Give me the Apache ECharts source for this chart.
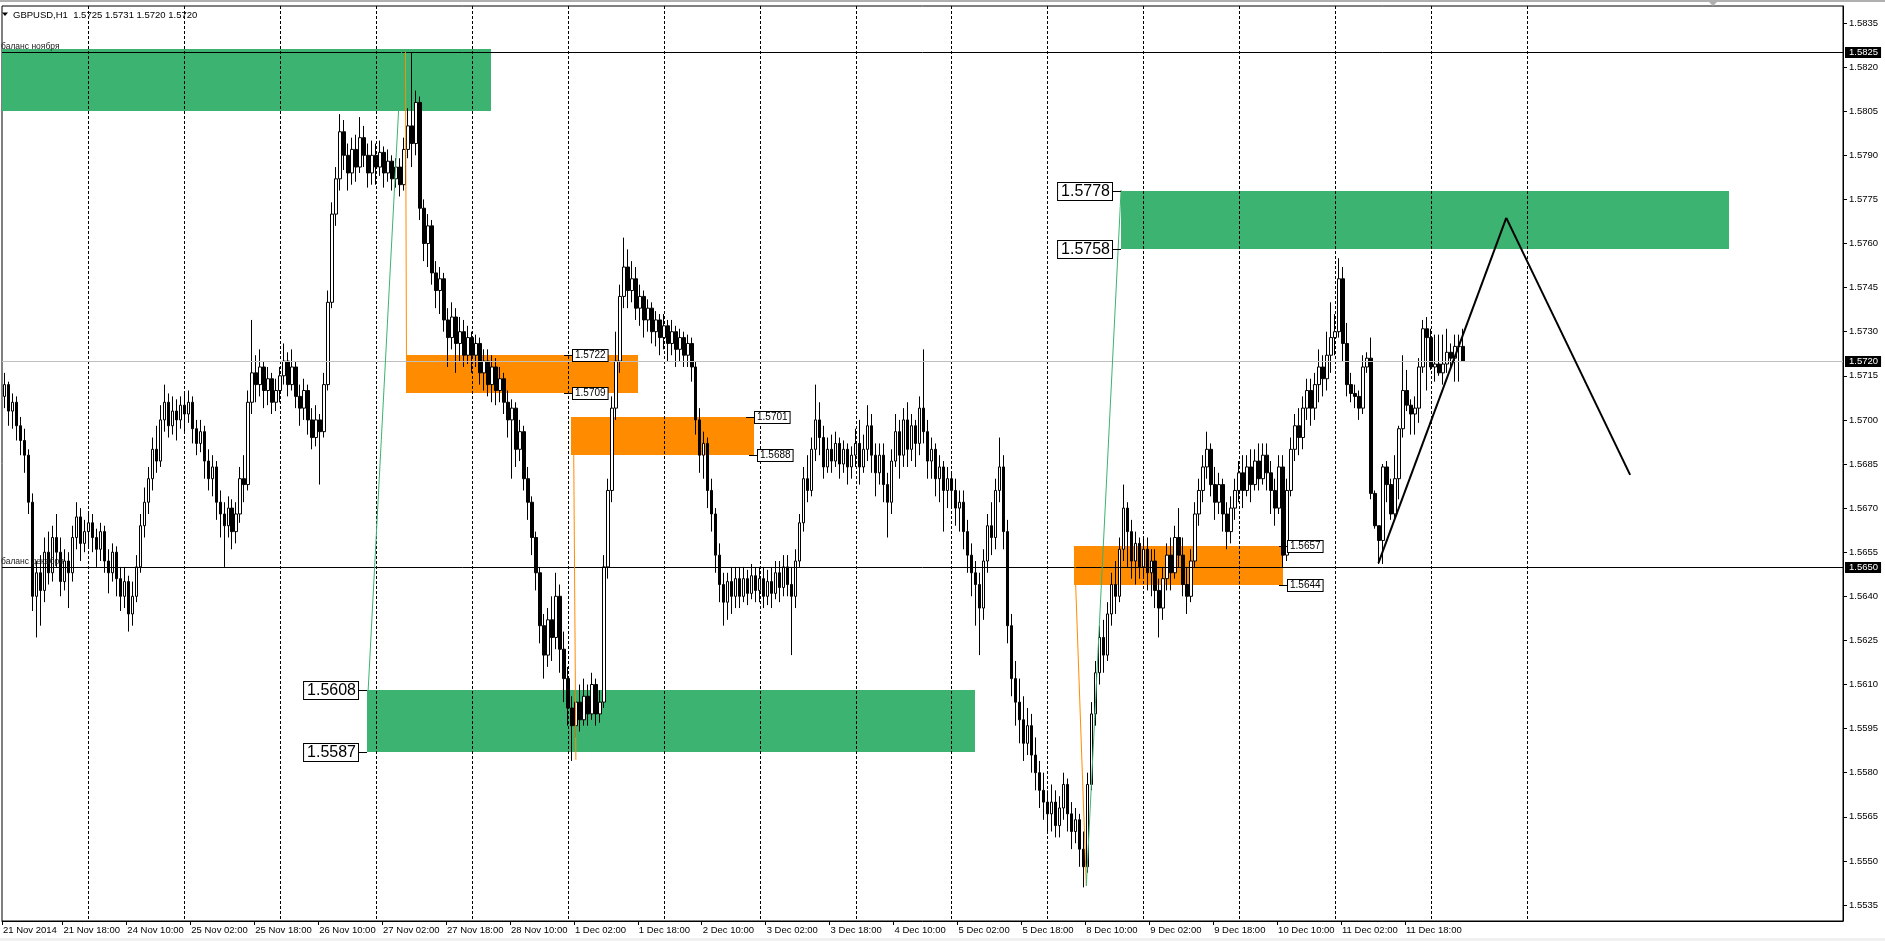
<!DOCTYPE html>
<html><head><meta charset="utf-8">
<script src="https://cdn.jsdelivr.net/npm/echarts@6/dist/echarts.min.js"></script>
<style>html,body{margin:0;padding:0;background:#fff;overflow:hidden}#c{width:1885px;height:941px}</style>
</head><body><div id="c"></div>
<script>
const headerText = 'GBPUSD,H1  1.5725 1.5731 1.5720 1.5720';
const yTicks = [1.5535,1.5550,1.5565,1.5580,1.5595,1.5610,1.5625,1.5640,1.5655,1.5670,1.5685,1.5700,1.5715,1.5730,1.5745,1.5760,1.5775,1.5790,1.5805,1.5820,1.5835];
const xTickBars = [0,16,32,48,64,80,96,112,128,144,160,176,192,208,224,240,256,272,288,304,320,336,352];
const xTickLabels = ['21 Nov 2014','21 Nov 18:00','24 Nov 10:00','25 Nov 02:00','25 Nov 18:00','26 Nov 10:00','27 Nov 02:00','27 Nov 18:00','28 Nov 10:00','1 Dec 02:00','1 Dec 18:00','2 Dec 10:00','3 Dec 02:00','3 Dec 18:00','4 Dec 10:00','5 Dec 02:00','5 Dec 18:00','8 Dec 10:00','9 Dec 02:00','9 Dec 18:00','10 Dec 10:00','11 Dec 02:00','11 Dec 18:00'];
const daySeparatorBars = [22,46,70,94,118,142,166,190,214,238,262,286,310,334,358,382];

// hourly bars per trading day: [close, low, high]; each bar opens at the previous close
const firstOpen = 1.5712;
const nov21 = [[1.5708,1.5702,1.5715],[1.5712,1.5704,1.5716],[1.5703,1.5698,1.5713],[1.5706,1.5697,1.5709],[1.5698,1.5693,1.5708],[1.5693,1.5688,1.5701],[1.5688,1.5682,1.5697],[1.5672,1.5668,1.5690],[1.5640,1.5635,1.5675],[1.5648,1.5626,1.5652],[1.5642,1.5630,1.5654],[1.5655,1.5638,1.5660],[1.5648,1.5644,1.5662],[1.5660,1.5645,1.5664],[1.5655,1.5650,1.5668],[1.5645,1.5640,1.5660],[1.5652,1.5642,1.5656],[1.5648,1.5636,1.5655],[1.5660,1.5645,1.5664],[1.5667,1.5656,1.5672],[1.5658,1.5652,1.5670],[1.5662,1.5655,1.5666]];
const nov24 = [[1.5665,1.5657,1.5668],[1.5660,1.5655,1.5668],[1.5656,1.5650,1.5663],[1.5662,1.5652,1.5665],[1.5652,1.5648,1.5664],[1.5648,1.5641,1.5656],[1.5655,1.5645,1.5658],[1.5646,1.5640,1.5657],[1.5640,1.5635,1.5650],[1.5645,1.5636,1.5650],[1.5634,1.5628,1.5647],[1.5640,1.5630,1.5645],[1.5650,1.5638,1.5654],[1.5664,1.5648,1.5668],[1.5672,1.5660,1.5677],[1.5680,1.5668,1.5684],[1.5690,1.5676,1.5694],[1.5686,1.5682,1.5698],[1.5700,1.5684,1.5705],[1.5706,1.5696,1.5712],[1.5698,1.5694,1.5709],[1.5703,1.5695,1.5708],[1.5700,1.5693,1.5707],[1.5705,1.5697,1.5708]];
const nov25 = [[1.5702,1.5696,1.5709],[1.5706,1.5699,1.5710],[1.5697,1.5692,1.5708],[1.5692,1.5688,1.5700],[1.5696,1.5689,1.5700],[1.5686,1.5680,1.5698],[1.5680,1.5676,1.5690],[1.5684,1.5674,1.5688],[1.5672,1.5666,1.5686],[1.5668,1.5660,1.5676],[1.5664,1.5650,1.5672],[1.5670,1.5660,1.5674],[1.5662,1.5656,1.5673],[1.5668,1.5658,1.5672],[1.5680,1.5665,1.5684],[1.5678,1.5672,1.5688],[1.5706,1.5676,1.5710],[1.5716,1.5702,1.5734],[1.5712,1.5706,1.5722],[1.5718,1.5708,1.5724],[1.5710,1.5704,1.5720],[1.5714,1.5705,1.5718],[1.5706,1.5702,1.5716],[1.5710,1.5703,1.5714]];
const nov26 = [[1.5715,1.5706,1.5718],[1.5720,1.5712,1.5726],[1.5712,1.5708,1.5723],[1.5718,1.5710,1.5724],[1.5708,1.5704,1.5720],[1.5704,1.5698,1.5712],[1.5710,1.5700,1.5714],[1.5700,1.5695,1.5712],[1.5694,1.5690,1.5704],[1.5700,1.5691,1.5705],[1.5696,1.5678,1.5702],[1.5712,1.5694,1.5716],[1.5740,1.5710,1.5744],[1.5770,1.5738,1.5774],[1.5782,1.5766,1.5786],[1.5798,1.5778,1.5804],[1.5790,1.5785,1.5802],[1.5784,1.5778,1.5794],[1.5792,1.5780,1.5796],[1.5786,1.5781,1.5797],[1.5796,1.5784,1.5803],[1.5790,1.5786,1.5800],[1.5784,1.5779,1.5794],[1.5790,1.5780,1.5795]];
const nov27 = [[1.5786,1.5780,1.5794],[1.5791,1.5783,1.5795],[1.5784,1.5779,1.5793],[1.5788,1.5781,1.5792],[1.5782,1.5778,1.5790],[1.5786,1.5779,1.5789],[1.5780,1.5776,1.5789],[1.5792,1.5778,1.5796],[1.5800,1.5789,1.5806],[1.5794,1.5786,1.5825],[1.5808,1.5790,1.5812],[1.5772,1.5768,1.5810],[1.5760,1.5754,1.5775],[1.5766,1.5752,1.5770],[1.5750,1.5746,1.5768],[1.5744,1.5738,1.5754],[1.5748,1.5736,1.5752],[1.5734,1.5730,1.5750],[1.5728,1.5718,1.5738],[1.5735,1.5724,1.5740],[1.5726,1.5716,1.5738],[1.5730,1.5720,1.5735],[1.5722,1.5718,1.5734],[1.5728,1.5719,1.5732]];
const nov28 = [[1.5722,1.5716,1.5730],[1.5726,1.5718,1.5729],[1.5716,1.5712,1.5728],[1.5720,1.5710,1.5724],[1.5712,1.5708,1.5724],[1.5718,1.5706,1.5722],[1.5710,1.5705,1.5721],[1.5714,1.5706,1.5718],[1.5706,1.5702,1.5716],[1.5700,1.5694,1.5710],[1.5704,1.5680,1.5707],[1.5690,1.5684,1.5706],[1.5696,1.5686,1.5700],[1.5680,1.5676,1.5698],[1.5672,1.5666,1.5684],[1.5660,1.5654,1.5674],[1.5648,1.5642,1.5662],[1.5630,1.5624,1.5650],[1.5620,1.5612,1.5634],[1.5632,1.5616,1.5636],[1.5626,1.5618,1.5640],[1.5640,1.5622,1.5648],[1.5622,1.5614,1.5644],[1.5612,1.5604,1.5628]];
const dec1 = [[1.5602,1.5596,1.5616],[1.5596,1.5584,1.5606],[1.5604,1.5592,1.5608],[1.5598,1.5594,1.5610],[1.5606,1.5596,1.5612],[1.5600,1.5596,1.5610],[1.5610,1.5598,1.5614],[1.5600,1.5596,1.5612],[1.5604,1.5597,1.5608],[1.5650,1.5602,1.5654],[1.5676,1.5646,1.5680],[1.5704,1.5672,1.5708],[1.5720,1.5700,1.5730],[1.5742,1.5716,1.5746],[1.5752,1.5738,1.5762],[1.5744,1.5738,1.5758],[1.5748,1.5740,1.5754],[1.5738,1.5734,1.5752],[1.5742,1.5732,1.5746],[1.5734,1.5728,1.5744],[1.5738,1.5730,1.5741],[1.5730,1.5726,1.5740],[1.5734,1.5725,1.5737],[1.5728,1.5722,1.5736]];
const dec2 = [[1.5732,1.5724,1.5736],[1.5726,1.5720,1.5734],[1.5730,1.5722,1.5734],[1.5724,1.5718,1.5732],[1.5728,1.5720,1.5731],[1.5722,1.5718,1.5730],[1.5726,1.5718,1.5729],[1.5718,1.5713,1.5728],[1.5700,1.5695,1.5720],[1.5688,1.5682,1.5704],[1.5692,1.5680,1.5696],[1.5676,1.5670,1.5694],[1.5668,1.5662,1.5680],[1.5654,1.5648,1.5670],[1.5644,1.5638,1.5658],[1.5638,1.5630,1.5648],[1.5645,1.5632,1.5648],[1.5640,1.5634,1.5650],[1.5646,1.5636,1.5650],[1.5640,1.5636,1.5650],[1.5646,1.5638,1.5650],[1.5641,1.5637,1.5649],[1.5647,1.5639,1.5651],[1.5642,1.5638,1.5650]];
const dec3 = [[1.5646,1.5638,1.5650],[1.5640,1.5636,1.5650],[1.5645,1.5637,1.5649],[1.5641,1.5636,1.5650],[1.5648,1.5639,1.5652],[1.5643,1.5638,1.5652],[1.5650,1.5640,1.5654],[1.5644,1.5640,1.5654],[1.5640,1.5620,1.5650],[1.5652,1.5636,1.5656],[1.5665,1.5650,1.5668],[1.5680,1.5662,1.5684],[1.5676,1.5672,1.5688],[1.5690,1.5674,1.5694],[1.5700,1.5686,1.5712],[1.5694,1.5688,1.5706],[1.5684,1.5680,1.5698],[1.5690,1.5682,1.5694],[1.5686,1.5682,1.5695],[1.5692,1.5684,1.5696],[1.5685,1.5680,1.5694],[1.5690,1.5682,1.5693],[1.5684,1.5678,1.5692],[1.5688,1.5680,1.5691]];
const dec4 = [[1.5692,1.5684,1.5697],[1.5684,1.5678,1.5700],[1.5690,1.5682,1.5695],[1.5698,1.5686,1.5705],[1.5688,1.5682,1.5702],[1.5682,1.5674,1.5692],[1.5688,1.5678,1.5692],[1.5678,1.5672,1.5692],[1.5672,1.5660,1.5682],[1.5686,1.5668,1.5690],[1.5696,1.5684,1.5702],[1.5688,1.5680,1.5700],[1.5700,1.5684,1.5704],[1.5690,1.5684,1.5706],[1.5698,1.5686,1.5702],[1.5692,1.5684,1.5700],[1.5704,1.5688,1.5708],[1.5696,1.5692,1.5724],[1.5686,1.5680,1.5700],[1.5690,1.5680,1.5694],[1.5680,1.5674,1.5692],[1.5684,1.5672,1.5688],[1.5676,1.5662,1.5686],[1.5680,1.5670,1.5684]];
const dec5 = [[1.5676,1.5670,1.5682],[1.5670,1.5664,1.5680],[1.5672,1.5662,1.5676],[1.5662,1.5656,1.5676],[1.5654,1.5648,1.5666],[1.5648,1.5640,1.5658],[1.5644,1.5630,1.5652],[1.5636,1.5620,1.5648],[1.5652,1.5632,1.5656],[1.5664,1.5648,1.5668],[1.5660,1.5654,1.5672],[1.5676,1.5656,1.5680],[1.5684,1.5672,1.5694],[1.5662,1.5656,1.5688],[1.5630,1.5624,1.5666],[1.5612,1.5606,1.5634],[1.5604,1.5596,1.5618],[1.5598,1.5590,1.5612],[1.5590,1.5584,1.5606],[1.5596,1.5586,1.5602],[1.5586,1.5580,1.5600],[1.5580,1.5574,1.5592],[1.5574,1.5568,1.5584],[1.5570,1.5564,1.5580]];
const dec8 = [[1.5566,1.5560,1.5574],[1.5570,1.5560,1.5576],[1.5562,1.5558,1.5574],[1.5568,1.5558,1.5572],[1.5576,1.5564,1.5580],[1.5566,1.5560,1.5578],[1.5560,1.5554,1.5570],[1.5564,1.5556,1.5568],[1.5554,1.5548,1.5566],[1.5548,1.5541,1.5560],[1.5576,1.5546,1.5580],[1.5600,1.5574,1.5604],[1.5614,1.5596,1.5618],[1.5626,1.5610,1.5630],[1.5620,1.5614,1.5632],[1.5634,1.5618,1.5638],[1.5644,1.5630,1.5648],[1.5640,1.5634,1.5652],[1.5656,1.5638,1.5660],[1.5670,1.5652,1.5678],[1.5662,1.5650,1.5672],[1.5652,1.5646,1.5666],[1.5658,1.5644,1.5662],[1.5650,1.5646,1.5660]];
const dec9 = [[1.5656,1.5646,1.5660],[1.5648,1.5642,1.5660],[1.5652,1.5640,1.5656],[1.5642,1.5636,1.5656],[1.5636,1.5626,1.5646],[1.5646,1.5632,1.5650],[1.5654,1.5642,1.5658],[1.5648,1.5642,1.5660],[1.5660,1.5646,1.5664],[1.5654,1.5650,1.5670],[1.5644,1.5640,1.5660],[1.5640,1.5634,1.5650],[1.5652,1.5638,1.5656],[1.5668,1.5650,1.5672],[1.5676,1.5664,1.5680],[1.5684,1.5672,1.5688],[1.5690,1.5680,1.5696],[1.5678,1.5674,1.5692],[1.5672,1.5666,1.5684],[1.5678,1.5668,1.5682],[1.5668,1.5662,1.5680],[1.5662,1.5656,1.5672],[1.5670,1.5658,1.5674],[1.5676,1.5666,1.5680]];
const dec10 = [[1.5682,1.5672,1.5686],[1.5676,1.5670,1.5688],[1.5684,1.5674,1.5688],[1.5678,1.5672,1.5690],[1.5686,1.5676,1.5690],[1.5680,1.5676,1.5692],[1.5688,1.5678,1.5692],[1.5682,1.5676,1.5692],[1.5676,1.5668,1.5686],[1.5670,1.5664,1.5680],[1.5684,1.5668,1.5688],[1.5654,1.5650,1.5688],[1.5676,1.5652,1.5680],[1.5690,1.5674,1.5694],[1.5698,1.5686,1.5702],[1.5694,1.5688,1.5704],[1.5704,1.5690,1.5708],[1.5710,1.5700,1.5714],[1.5704,1.5698,1.5714],[1.5712,1.5700,1.5716],[1.5718,1.5706,1.5724],[1.5714,1.5708,1.5722],[1.5722,1.5710,1.5730],[1.5728,1.5716,1.5740]];
const dec11 = [[1.5730,1.5722,1.5736],[1.5748,1.5728,1.5755],[1.5726,1.5720,1.5752],[1.5712,1.5708,1.5733],[1.5709,1.5706,1.5716],[1.5708,1.5704,1.5712],[1.5704,1.5700,1.5710],[1.5718,1.5702,1.5722],[1.5721,1.5716,1.5723],[1.5675,1.5673,1.5728],[1.5664,1.5663,1.5676],[1.5659,1.5651,1.5664],[1.5684,1.5651,1.5685],[1.5678,1.5672,1.5686],[1.5668,1.5666,1.5680],[1.5680,1.5666,1.5688],[1.5697,1.5673,1.5698],[1.5710,1.5694,1.5722],[1.5705,1.5703,1.5717],[1.5702,1.5695,1.5707],[1.5704,1.5695,1.5708],[1.5718,1.5699,1.5721],[1.5731,1.5716,1.5734],[1.5728,1.5710,1.5735]];
const dec12 = [[1.5718,1.5717,1.5731],[1.5719,1.5713,1.5729],[1.5716,1.5715,1.5729],[1.5719,1.5712,1.5729],[1.5723,1.5716,1.5731],[1.5721,1.5718,1.5726],[1.5725,1.5713,1.5729],[1.5725,1.5713,1.5729],[1.5720,1.5720,1.5731]];

// zones: [fromBar, toBar, topPrice, bottomPrice, colour key]
const zones = [
  [-6, 122.7, 1.58262, 1.5805, 'green'],
  [91.7, 243.8, 1.5608, 1.5587, 'green'],
  [280.5, 432.5, 1.5778, 1.5758, 'green'],
  [101.6, 159.6, 1.5722, 1.5709, 'orange'],
  [142.9, 188.6, 1.5701, 1.5688, 'orange'],
  [268.7, 321.0, 1.5657, 1.5644, 'orange']
];
// big price tags (box left of anchor): [anchorBar, price]
const bigTags = [[91.7,1.5608],[91.7,1.5587],[280.5,1.5778],[280.5,1.5758]];
// small price tags (box right of anchor): [anchorBar, price]
const smallTags = [[141.1,1.5722],[141.1,1.5709],[186.6,1.5701],[187.4,1.5688],[320.0,1.5657],[320.0,1.5644]];
// horizontal lines: [price, colour key, description]
const hLines = [[1.5825,'black','баланс ноября'],[1.5650,'black','баланс декабря'],[1.5720,'gray','']];
// trend lines: [bar1, price1, bar2, price2, colour key]
const trendLines = [
  [92.0,1.56077,100.4,1.58252,'green'],
  [101.35,1.58252,101.6,1.5722,'orange'],
  [143.4,1.57005,144.0,1.55844,'orange'],
  [268.75,1.56568,271.75,1.55415,'orange'],
  [271.75,1.55415,280.45,1.57782,'green'],
  [344.85,1.56513,376.85,1.57687,'thick'],
  [376.85,1.57687,407.85,1.56813,'thick']
];

const colours = {green:'#3CB371', orange:'#FF8C00', black:'#000000', gray:'#C0C0C0', thick:'#000000'};
const FONT = '"Liberation Sans", Arial, sans-serif';

const bars = [].concat(nov21,nov24,nov25,nov26,nov27,nov28,dec1,dec2,dec3,dec4,dec5,dec8,dec9,dec10,dec11,dec12);
const candles = bars.map((b, i) => {
  const o = i ? bars[i - 1][0] : firstOpen, c = b[0];
  return [i, o, c, Math.min(b[1], o, c), Math.max(b[2], o, c)];
});

const W = 1885, H = 941, gridLeft = 0, gridRight = 42, gridTop = 6, gridBottom = 20;
const pxPerBar = 4, pxPerUnit = 29400;
const xMin = 0.375, xMax = xMin + (W - gridRight - gridLeft) / pxPerBar;
const yMax = 1.5835 + (23 - gridTop) / pxPerUnit;
const yMin = 1.5835 - (H - gridBottom - 23) / pxPerUnit;
const xTickValues = xTickBars.map(b => Math.max(b - 0.5, xMin));

const chart = echarts.init(document.getElementById('c'), null, {width: W, height: H});
const r = v => Math.round(v) + 0.5;

chart.setOption({
  animation: false,
  backgroundColor: '#ffffff',
  grid: {left: gridLeft, right: gridRight, top: gridTop, bottom: gridBottom, show: true, borderColor: '#000', borderWidth: 1, backgroundColor: 'transparent'},
  xAxis: {
    type: 'value', min: xMin, max: xMax,
    axisLine: {show: true, onZero: false, lineStyle: {color: '#000', width: 1}},
    axisTick: {show: true, customValues: xTickValues, length: 4, lineStyle: {color: '#000'}},
    axisLabel: {customValues: xTickValues, formatter: v => xTickLabels[Math.round((v + 0.5) / 16)] || '', align: 'left', color: '#000', fontSize: 9.5, fontFamily: FONT, margin: 4, padding: [0,0,0,1]},
    splitLine: {show: false}
  },
  yAxis: {
    type: 'value', position: 'right', min: yMin, max: yMax, scale: true,
    axisLine: {show: true, lineStyle: {color: '#000', width: 1}},
    axisTick: {show: true, customValues: yTicks, length: 4, lineStyle: {color: '#000'}},
    axisLabel: {customValues: yTicks, formatter: v => v.toFixed(4), color: '#000', fontSize: 9.5, fontFamily: FONT, margin: 6},
    splitLine: {show: false}
  },
  graphic: [
    {type: 'rect', shape: {x: 0, y: 0, width: W, height: 2}, style: {fill: '#b0b0b0'}, silent: true},
    {type: 'rect', shape: {x: 0, y: H - 3, width: W, height: 3}, style: {fill: '#f0f0f0'}, silent: true},
    {type: 'polygon', shape: {points: [[2,12.5],[8,12.5],[5,16]]}, style: {fill: '#000'}},
    {type: 'text', x: 13, y: 15, style: {text: headerText, font: '9.5px ' + FONT, fill: '#000', verticalAlign: 'middle'}},
    {type: 'polygon', shape: {points: [[1709,2],[1717,2],[1713,6]]}, style: {fill: '#b0b0b0'}}
  ],
  series: [
    {
      type: 'custom', name: 'zones', z: 1, clip: true, silent: true,
      data: zones.map(z => [z[0], z[1], z[2], z[3]]),
      renderItem: (params, api) => {
        const a = api.coord([api.value(0), api.value(2)]);
        const b = api.coord([api.value(1), api.value(3)]);
        const x1 = Math.round(a[0]), y1 = Math.round(a[1]), x2 = Math.round(b[0]), y2 = Math.round(b[1]);
        return {type: 'rect', shape: {x: x1, y: y1, width: x2 - x1, height: y2 - y1}, style: {fill: colours[zones[params.dataIndex][4]]}};
      }
    },
    {
      type: 'custom', name: 'separators', z: 2, clip: true, silent: true,
      data: daySeparatorBars.map(b => [b, 1.56]),
      renderItem: (params, api) => {
        const x = r(api.coord([api.value(0), 1.56])[0]);
        const cs = params.coordSys;
        return {type: 'line', shape: {x1: x, y1: cs.y, x2: x, y2: cs.y + cs.height}, style: {stroke: '#000', lineWidth: 1, lineDash: [3, 2]}};
      }
    },
    {
      type: 'candlestick', name: 'GBPUSD', z: 3, barWidth: 3, clip: true, silent: true,
      encode: {x: 0, y: [1, 2, 3, 4]},
      data: candles,
      itemStyle: {color: '#ffffff', color0: '#000000', borderColor: '#000000', borderColor0: '#000000', borderWidth: 1}
    },
    {
      type: 'custom', name: 'hlines', z: 4, clip: false, silent: true,
      data: hLines.map(h => [1, h[0]]),
      renderItem: (params, api) => {
        const h = hLines[params.dataIndex];
        const y = r(api.coord([1, h[0]])[1]);
        const cs = params.coordSys;
        const children = [
          {type: 'line', shape: {x1: cs.x, y1: y, x2: cs.x + cs.width, y2: y}, style: {stroke: colours[h[1]], lineWidth: 1}},
          {type: 'text', x: cs.x + cs.width + 2, y: y, z2: 20, style: {text: h[0].toFixed(4), fill: '#fff', backgroundColor: '#000', padding: [1, 3, 0, 4], font: '9.5px ' + FONT, verticalAlign: 'middle', align: 'left'}}
        ];
        if (h[2]) children.push({type: 'text', x: 1, y: y - 1, style: {text: h[2], fill: '#222', font: '8.5px ' + FONT, verticalAlign: 'bottom', align: 'left'}});
        return {type: 'group', children};
      }
    },
    {
      type: 'custom', name: 'trend', z: 5, clip: true, silent: true,
      data: trendLines.map(t => [t[0], t[1], t[2], t[3]]),
      renderItem: (params, api) => {
        const t = trendLines[params.dataIndex];
        const a = api.coord([t[0], t[1]]), b = api.coord([t[2], t[3]]);
        return {type: 'line', shape: {x1: a[0], y1: a[1], x2: b[0], y2: b[1]}, style: {stroke: colours[t[4]], lineWidth: t[4] === 'thick' ? 2 : 1}};
      }
    },
    {
      type: 'custom', name: 'bigTags', z: 6, clip: false, silent: true,
      data: bigTags.map(t => [t[0], t[1]]),
      renderItem: (params, api) => {
        const t = bigTags[params.dataIndex];
        const p = api.coord([t[0], t[1]]);
        const y = r(p[1]), x = Math.round(p[0]);
        return {type: 'group', children: [
          {type: 'line', shape: {x1: x - 9, y1: y, x2: x, y2: y}, style: {stroke: '#000', lineWidth: 1}},
          {type: 'text', x: x - 9, y: y, style: {text: t[1].toFixed(4), fill: '#000', backgroundColor: '#fff', borderColor: '#000', borderWidth: 1, padding: [1, 2, 0, 3], font: '16px ' + FONT, align: 'right', verticalAlign: 'middle'}}
        ]};
      }
    },
    {
      type: 'custom', name: 'smallTags', z: 6, clip: false, silent: true,
      data: smallTags.map(t => [t[0], t[1]]),
      renderItem: (params, api) => {
        const t = smallTags[params.dataIndex];
        const p = api.coord([t[0], t[1]]);
        const y = r(p[1]), x = Math.round(p[0]);
        return {type: 'group', children: [
          {type: 'line', shape: {x1: x, y1: y, x2: x + 9, y2: y}, style: {stroke: '#000', lineWidth: 1}},
          {type: 'text', x: x + 9, y: y, style: {text: t[1].toFixed(4), fill: '#000', backgroundColor: '#fff', borderColor: '#000', borderWidth: 1, padding: [1, 2, 0, 2], font: '10px ' + FONT, align: 'left', verticalAlign: 'middle'}}
        ]};
      }
    }
  ]
});
</script></body></html>
